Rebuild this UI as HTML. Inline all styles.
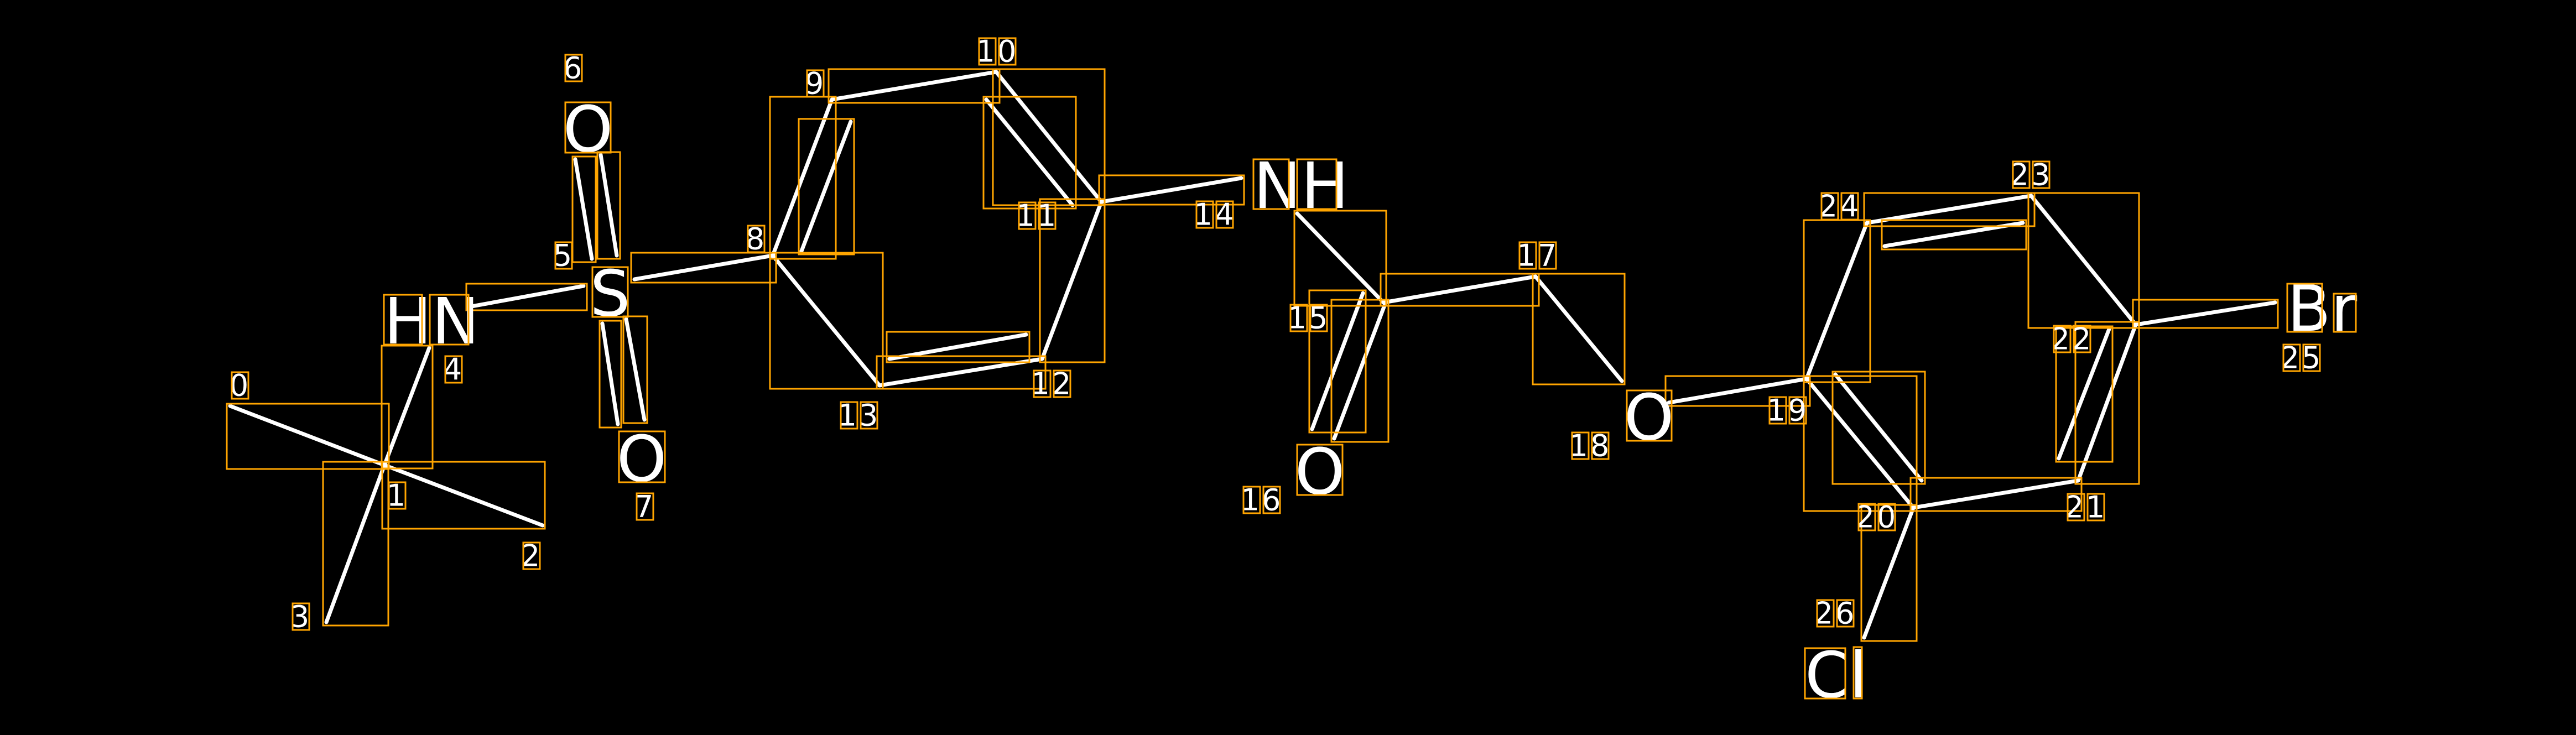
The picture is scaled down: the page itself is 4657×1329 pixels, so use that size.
<!DOCTYPE html>
<html><head><meta charset="utf-8"><style>
html,body{margin:0;padding:0;background:#000;}
svg{display:block}
text{font-family:"DejaVu Sans","Liberation Sans",sans-serif;fill:#fff}
.b{stroke:#fff;stroke-width:7;stroke-linecap:round}
.o{fill:none;stroke:#FFA500;stroke-width:3}
.n{font-size:54px;text-anchor:middle;dominant-baseline:central;letter-spacing:4px}
.a{font-size:115px}
</style></head><body>
<svg width="4657" height="1329" viewBox="0 0 4657 1329" xmlns="http://www.w3.org/2000/svg">
<rect width="4657" height="1329" fill="#000"/>
<g class="b">
<line x1="416" y1="734" x2="695" y2="841"/>
<line x1="695" y1="841" x2="981" y2="950"/>
<line x1="695" y1="841" x2="590" y2="1125"/>
<line x1="695" y1="841" x2="776" y2="629"/>
<line x1="847" y1="555" x2="1055" y2="517"/>
<line x1="1040" y1="288" x2="1070" y2="468"/>
<line x1="1086" y1="280" x2="1115" y2="462"/>
<line x1="1089" y1="585" x2="1117" y2="767"/>
<line x1="1132" y1="577" x2="1165" y2="759"/>
<line x1="1147" y1="505" x2="1397" y2="462"/>
<line x1="1397" y1="462" x2="1504" y2="180"/>
<line x1="1449" y1="454" x2="1538" y2="220"/>
<line x1="1504" y1="180" x2="1801" y2="130"/>
<line x1="1801" y1="130" x2="1991" y2="365"/>
<line x1="1783" y1="180" x2="1939" y2="371"/>
<line x1="1991" y1="365" x2="1884" y2="649"/>
<line x1="1884" y1="649" x2="1590" y2="697"/>
<line x1="1608" y1="649" x2="1855" y2="605"/>
<line x1="1590" y1="697" x2="1397" y2="462"/>
<line x1="1991" y1="365" x2="2244" y2="322"/>
<line x1="2345" y1="386" x2="2501" y2="547"/>
<line x1="2372" y1="776" x2="2464" y2="530"/>
<line x1="2412" y1="793" x2="2505" y2="547"/>
<line x1="2501" y1="547" x2="2776" y2="500"/>
<line x1="2776" y1="500" x2="2932" y2="689"/>
<line x1="3017" y1="728" x2="3266" y2="685"/>
<line x1="3266" y1="685" x2="3375" y2="403"/>
<line x1="3375" y1="403" x2="3672" y2="354"/>
<line x1="3407" y1="445" x2="3657" y2="403"/>
<line x1="3672" y1="354" x2="3861" y2="587"/>
<line x1="3861" y1="587" x2="3757" y2="869"/>
<line x1="3722" y1="829" x2="3813" y2="595"/>
<line x1="3757" y1="869" x2="3459" y2="918"/>
<line x1="3459" y1="918" x2="3266" y2="685"/>
<line x1="3318" y1="677" x2="3474" y2="869"/>
<line x1="3861" y1="587" x2="4113" y2="547"/>
<line x1="3459" y1="918" x2="3370" y2="1153"/>
</g>
<g class="o">
<rect x="410" y="730" width="293" height="118"/>
<rect x="691" y="835" width="294" height="121"/>
<rect x="584" y="835" width="118" height="296"/>
<rect x="690" y="625" width="92" height="222"/>
<rect x="843" y="513" width="218" height="48"/>
<rect x="1035" y="283" width="42" height="191"/>
<rect x="1080" y="275" width="41" height="193"/>
<rect x="1084" y="580" width="39" height="193"/>
<rect x="1127" y="572" width="43" height="193"/>
<rect x="1141" y="457" width="262" height="54"/>
<rect x="1392" y="175" width="119" height="293"/>
<rect x="1444" y="215" width="100" height="245"/>
<rect x="1498" y="125" width="309" height="61"/>
<rect x="1795" y="125" width="202" height="246"/>
<rect x="1778" y="175" width="167" height="202"/>
<rect x="1880" y="360" width="117" height="295"/>
<rect x="1585" y="644" width="305" height="59"/>
<rect x="1603" y="600" width="258" height="55"/>
<rect x="1392" y="457" width="204" height="246"/>
<rect x="1987" y="317" width="262" height="53"/>
<rect x="2340" y="381" width="166" height="172"/>
<rect x="2367" y="525" width="102" height="257"/>
<rect x="2407" y="542" width="103" height="257"/>
<rect x="2496" y="495" width="286" height="58"/>
<rect x="2771" y="495" width="166" height="200"/>
<rect x="3011" y="680" width="261" height="54"/>
<rect x="3261" y="398" width="120" height="293"/>
<rect x="3370" y="349" width="308" height="60"/>
<rect x="3402" y="398" width="261" height="53"/>
<rect x="3667" y="349" width="200" height="244"/>
<rect x="3752" y="582" width="115" height="293"/>
<rect x="3717" y="590" width="102" height="245"/>
<rect x="3454" y="864" width="309" height="60"/>
<rect x="3261" y="680" width="204" height="244"/>
<rect x="3313" y="672" width="167" height="203"/>
<rect x="3856" y="542" width="262" height="51"/>
<rect x="3365" y="913" width="100" height="246"/>
</g>
<g>
<text class="a" x="694" y="621">HN</text>
<text class="a" x="1063" y="274" text-anchor="middle">O</text>
<text class="a" x="1103" y="571" text-anchor="middle">S</text>
<text class="a" x="1160" y="870" text-anchor="middle">O</text>
<text class="a" x="2266" y="376">NH</text>
<text class="a" x="2386" y="893" text-anchor="middle">O</text>
<text class="a" x="2981" y="795" text-anchor="middle">O</text>
<text class="a" x="4135" y="598">Br</text>
<text class="a" x="3263" y="1261">Cl</text>
</g>
<g class="o">
<rect x="694" y="533" width="69" height="90"/><rect x="777" y="533" width="70" height="90"/>
<rect x="1022" y="185" width="82" height="91"/>
<rect x="1071" y="483" width="64" height="90"/>
<rect x="1119" y="780" width="83" height="92"/>
<rect x="2266" y="288" width="64" height="90"/><rect x="2345" y="288" width="71" height="90"/>
<rect x="2345" y="804" width="82" height="91"/>
<rect x="2941" y="706" width="81" height="91"/>
<rect x="4135" y="513" width="63" height="87"/><rect x="4219" y="531" width="40" height="69"/>
<rect x="3263" y="1172" width="73" height="91"/><rect x="3351" y="1170" width="15" height="93"/>
</g>
<g>
<text class="n" x="434" y="697">0</text>
<text class="n" x="718" y="896">1</text>
<text class="n" x="961" y="1005">2</text>
<text class="n" x="544" y="1115">3</text>
<text class="n" x="820" y="668">4</text>
<text class="n" x="1019" y="462">5</text>
<text class="n" x="1037" y="123">6</text>
<text class="n" x="1166" y="916">7</text>
<text class="n" x="1367" y="432">8</text>
<text class="n" x="1474" y="151">9</text>
<text class="n" x="1803" y="93">10</text>
<text class="n" x="1875" y="390">11</text>
<text class="n" x="1902" y="694">12</text>
<text class="n" x="1553" y="751">13</text>
<text class="n" x="2196" y="388">14</text>
<text class="n" x="2366" y="575">15</text>
<text class="n" x="2281" y="904">16</text>
<text class="n" x="2780" y="462">17</text>
<text class="n" x="2875" y="806">18</text>
<text class="n" x="3232" y="742">19</text>
<text class="n" x="3393" y="935">20</text>
<text class="n" x="3771" y="917">21</text>
<text class="n" x="3746" y="613">22</text>
<text class="n" x="3672" y="316">23</text>
<text class="n" x="3326" y="373">24</text>
<text class="n" x="4161" y="647">25</text>
<text class="n" x="3318" y="1109">26</text>
</g>
<g class="o">
<rect x="419" y="673" width="30" height="48"/>
<rect x="703" y="872" width="30" height="48"/>
<rect x="946" y="981" width="30" height="48"/>
<rect x="529" y="1091" width="30" height="48"/>
<rect x="805" y="644" width="30" height="48"/>
<rect x="1004" y="438" width="30" height="48"/>
<rect x="1022" y="99" width="30" height="48"/>
<rect x="1151" y="892" width="30" height="48"/>
<rect x="1352" y="408" width="30" height="48"/>
<rect x="1459" y="127" width="30" height="48"/>
<rect x="1770" y="69" width="30" height="48"/><rect x="1806" y="69" width="30" height="48"/>
<rect x="1842" y="366" width="30" height="48"/><rect x="1878" y="366" width="30" height="48"/>
<rect x="1869" y="670" width="30" height="48"/><rect x="1905" y="670" width="30" height="48"/>
<rect x="1520" y="727" width="30" height="48"/><rect x="1556" y="727" width="30" height="48"/>
<rect x="2163" y="364" width="30" height="48"/><rect x="2199" y="364" width="30" height="48"/>
<rect x="2333" y="551" width="30" height="48"/><rect x="2369" y="551" width="30" height="48"/>
<rect x="2248" y="880" width="30" height="48"/><rect x="2284" y="880" width="30" height="48"/>
<rect x="2747" y="438" width="30" height="48"/><rect x="2783" y="438" width="30" height="48"/>
<rect x="2842" y="782" width="30" height="48"/><rect x="2878" y="782" width="30" height="48"/>
<rect x="3199" y="718" width="30" height="48"/><rect x="3235" y="718" width="30" height="48"/>
<rect x="3360" y="911" width="30" height="48"/><rect x="3396" y="911" width="30" height="48"/>
<rect x="3738" y="893" width="30" height="48"/><rect x="3774" y="893" width="30" height="48"/>
<rect x="3713" y="589" width="30" height="48"/><rect x="3749" y="589" width="30" height="48"/>
<rect x="3639" y="292" width="30" height="48"/><rect x="3675" y="292" width="30" height="48"/>
<rect x="3293" y="349" width="30" height="48"/><rect x="3329" y="349" width="30" height="48"/>
<rect x="4128" y="623" width="30" height="48"/><rect x="4164" y="623" width="30" height="48"/>
<rect x="3285" y="1085" width="30" height="48"/><rect x="3321" y="1085" width="30" height="48"/>
</g>
</svg>
</body></html>
